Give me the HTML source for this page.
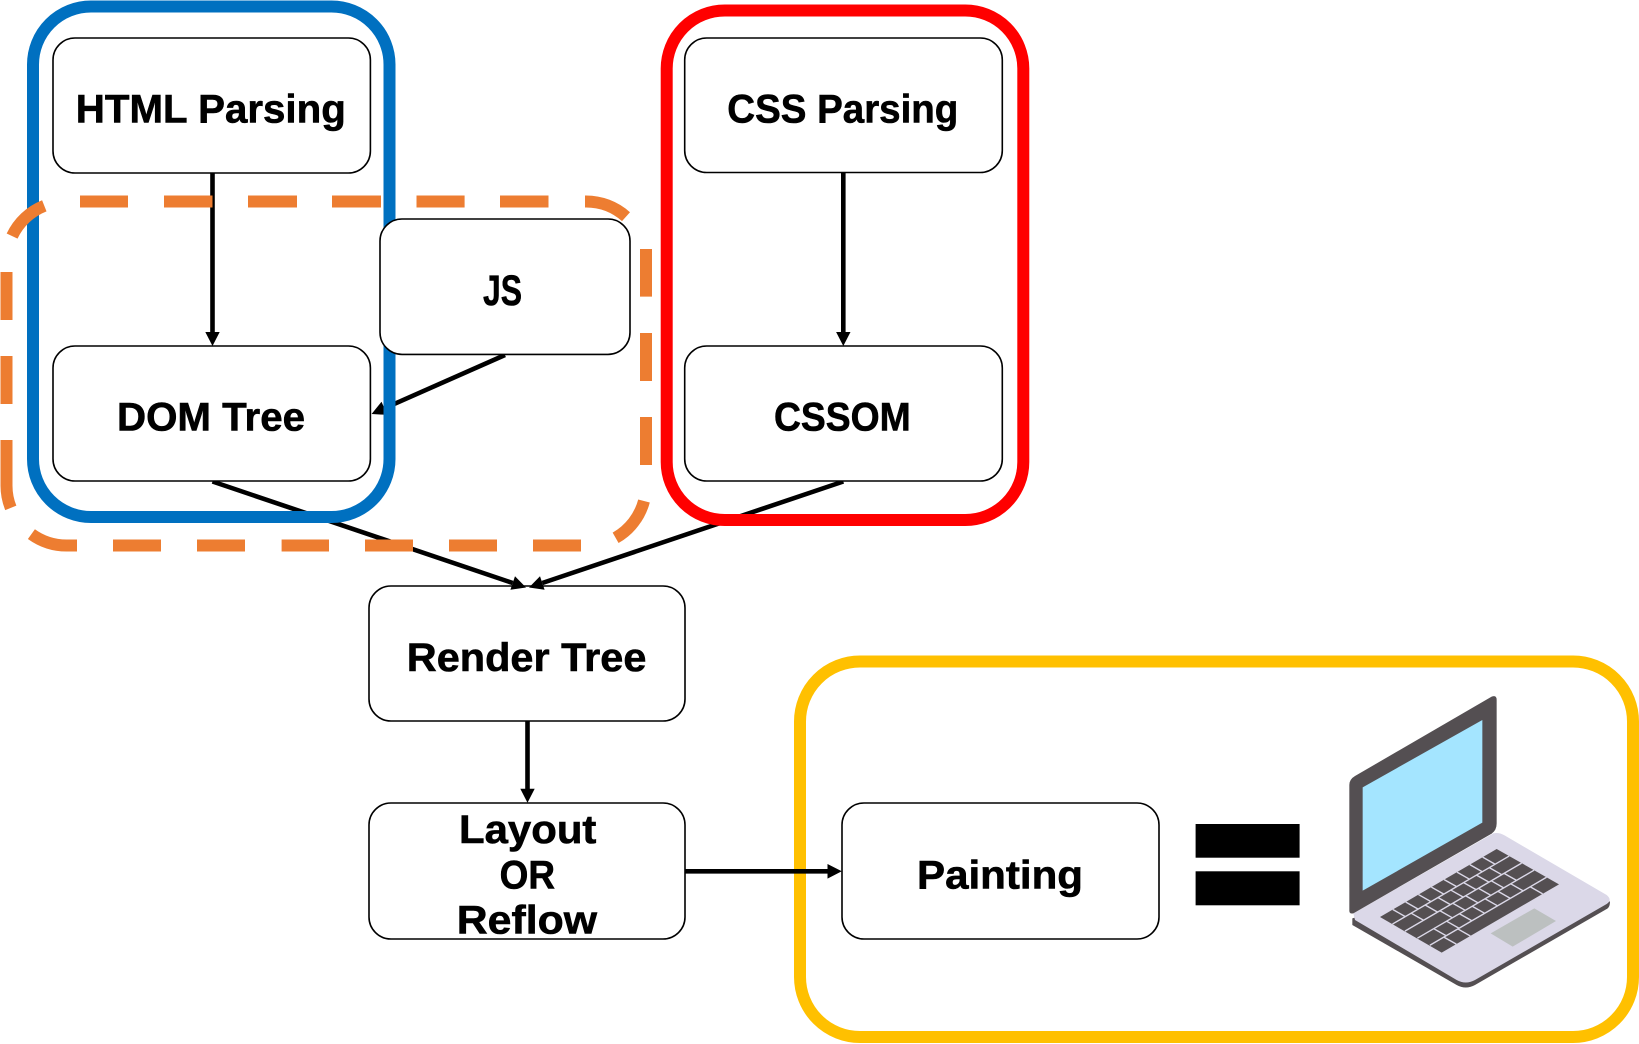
<!DOCTYPE html>
<html>
<head>
<meta charset="utf-8">
<style>
html,body{margin:0;padding:0;background:#fff;width:1639px;height:1044px;overflow:hidden}
svg{display:block}
text{font-family:"Liberation Sans","Noto Sans CJK KR",sans-serif;font-weight:700;font-size:40px;fill:#000;stroke:#000;stroke-width:.6px}
</style>
</head>
<body>
<svg width="1639" height="1044" viewBox="0 0 1639 1044" xmlns="http://www.w3.org/2000/svg">
<rect width="1639" height="1044" fill="#fff"/>

<!-- yellow group -->
<rect x="800" y="661.5" width="833" height="375.5" rx="60" fill="none" stroke="#ffc000" stroke-width="12"/>

<!-- lower boxes under the arrows -->
<g fill="#fff" stroke="#000" stroke-width="1.6">
<rect x="369" y="586" width="316" height="135" rx="22"/>
<rect x="369" y="803" width="316" height="136" rx="22"/>
<rect x="842" y="803" width="317" height="136" rx="22"/>
</g>

<!-- arrows -->
<g stroke="#000" stroke-width="4.6" fill="none">
<path d="M212.5 173V333"/>
<path d="M843.3 172.5V333"/>
<path d="M505 355L384.4 408.3"/>
<path d="M212.5 481.5L512.7 583"/>
<path d="M843.3 481.5L542.3 583"/>
<path d="M527.5 721V790"/>
<path d="M685 871.3H829"/>
</g>
<g fill="#000">
<polygon points="212.5,346 205.3,332 219.7,332"/>
<polygon points="843.3,346 836.1,332 850.5,332"/>
<polygon points="371.6,414 387.3,414.9 381.5,401.7"/>
<polygon points="526,587.5 510.4,589.8 515,576.2"/>
<polygon points="529,587.5 544.6,589.8 540,576.2"/>
<polygon points="527.5,802.7 520.3,788.7 534.7,788.7"/>
<polygon points="841.8,871.3 827.5,864 827.5,878.6"/>
</g>

<!-- blue and red groups -->
<rect x="33" y="6.5" width="356.5" height="510.5" rx="58" fill="none" stroke="#0070c0" stroke-width="12"/>
<rect x="666.7" y="10.5" width="356.6" height="509.5" rx="58" fill="none" stroke="#ff0000" stroke-width="12"/>

<!-- orange dashed group -->
<g fill="none" stroke="#ed7d31" stroke-width="12">
<path d="M12.1 236.1A60 60 0 0 1 44.3 205.8"/>
<path d="M80 201.5H128M164 201.5H212.5M248 201.5H297M332 201.5H381M416.5 201.5H464.6M500 201.5H548.5"/>
<path d="M585 201.5H586A60 60 0 0 1 626 216.7"/>
<path d="M646 249V296.6M646 333V381M646 417V465"/>
<path d="M644 501A60 60 0 0 1 615.6 537.8"/>
<path d="M581 545.5H533M497 545.5H449M413 545.5H365M329 545.5H281.6M245 545.5H197M161 545.5H113"/>
<path d="M77 545.5H66.5A60 60 0 0 1 31.4 534.1"/>
<path d="M6.5 440V485.5A60 60 0 0 0 10.8 507.9"/>
<path d="M6.5 404V356M6.5 320V272"/>
</g>

<!-- upper boxes -->
<g fill="#fff" stroke="#000" stroke-width="1.6">
<rect x="53" y="38" width="317.4" height="135" rx="22"/>
<rect x="53" y="346" width="317.4" height="135" rx="22"/>
<rect x="380" y="219" width="250" height="135.4" rx="22"/>
<rect x="684.7" y="38" width="317.6" height="134.5" rx="22"/>
<rect x="684.7" y="346" width="317.6" height="135" rx="22"/>
</g>

<!-- labels -->
<text x="75.8" y="122.5" textLength="270" lengthAdjust="spacingAndGlyphs">HTML Parsing</text>
<text x="117" y="430.5" textLength="188" lengthAdjust="spacingAndGlyphs">DOM Tree</text>
<text x="483" y="305" textLength="39" lengthAdjust="spacingAndGlyphs" style="font-size:43px">JS</text>
<text x="727.3" y="122.5" textLength="231" lengthAdjust="spacingAndGlyphs">CSS Parsing</text>
<text x="774" y="430.5" textLength="136.7" lengthAdjust="spacingAndGlyphs">CSSOM</text>
<text x="406.8" y="671" textLength="239.6" lengthAdjust="spacingAndGlyphs">Render Tree</text>
<text x="459" y="843" textLength="137.4" lengthAdjust="spacingAndGlyphs">Layout</text>
<text x="499.6" y="888.3" textLength="55.4" lengthAdjust="spacingAndGlyphs">OR</text>
<text x="456.8" y="933.3" textLength="140.2" lengthAdjust="spacingAndGlyphs">Reflow</text>
<text x="917" y="888.3" textLength="166" lengthAdjust="spacingAndGlyphs">Painting</text>

<!-- equals sign -->
<rect x="1195.6" y="824" width="104" height="33.7" fill="#000"/>
<rect x="1195.6" y="871.3" width="104" height="34" fill="#000"/>

<!-- laptop -->
<g transform="translate(1300 670) scale(0.33333)">
<path d="M157 745V765L470 945Q497 960 525 945L922 716Q930 710 930 695L600 600Z" fill="#544f52"/>
<path d="M160 730L580 490Q597 486 615 497L920 675Q938 690 920 702L525 930Q497 945 470 930L165 750Z" fill="#dbd8e8"/>
<path d="M148 345Q148 328 165 318L575 80Q590 74 590 90V460Q590 480 575 491L160 730Q148 733 148 722Z" fill="#544f52"/>
<polygon points="188,352 547,150 547,458 188,662" fill="#a4e5ff"/>
<polygon points="572,790 703,715 768,753 638,830" fill="#bcc0c0"/>
<polygon points="240,741 590,537 777,643 425,848" fill="#544f52"/>
<g transform="matrix(350 -204 187 106 240 741)" fill="none" stroke="#dbd8e8" stroke-width="1.4">
<path vector-effect="non-scaling-stroke" d="M0 .2H1M0 .4H1M0 .6H1M0 .8H1"/>
<path vector-effect="non-scaling-stroke" d="M.11 0V.2M.22 0V.2M.33 0V.2M.44 0V.2M.55 0V.2M.66 0V.2M.77 0V.2M.88 0V.2"/>
<path vector-effect="non-scaling-stroke" d="M.16 .2V.4M.28 .2V.4M.39 .2V.4M.5 .2V.4M.61 .2V.4M.72 .2V.4M.83 .2V.4"/>
<path vector-effect="non-scaling-stroke" d="M.3 .4V.6M.41 .4V.6M.52 .4V.6M.63 .4V.6M.74 .4V.6M.85 .4V.6"/>
<path vector-effect="non-scaling-stroke" d="M.14 .6V.8M.25 .6V.8M.36 .6V.8M.47 .6V.8M.58 .6V.8M.69 .6V.8M.8 .6V.8"/>
<path vector-effect="non-scaling-stroke" d="M.12 .8V1M.24 .8V1M.86 .8V1"/>
</g>
</g>
</svg>
</body>
</html>
